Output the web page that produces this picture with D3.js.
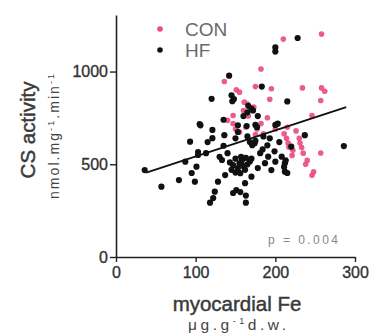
<!DOCTYPE html>
<html><head><meta charset="utf-8">
<script src="https://cdn.jsdelivr.net/npm/d3@7"></script>
<style>body{margin:0;background:#fff}svg{display:block;font-family:"Liberation Sans",Arial,sans-serif}</style>
</head><body><svg id="c" width="373" height="333"></svg>
<script>
const xTicks = [0, 100, 200, 300];
const yTicks = [0, 500, 1000];
const seriesNames = ["CON", "HF"];
const seriesColors = ["#e94a80", "#111111"];
const hfPoints = [[228,1181],[200,1130],[200,1108],[142,978],[183,919],[120,853],[145,872],[148,852],[146,840],[215,839],[166,815],[170,800],[172,790],[165,780],[135,740],[106,710],[153,710],[177,700],[203,719],[105,717],[121,685],[121,641],[136,657],[153,674],[164,706],[175,712],[200,712],[93,622],[103,566],[103,550],[87,514],[95,453],[101,487],[99,406],[79,415],[57,379],[36,469],[118,293],[122,318],[124,352],[128,406],[137,442],[130,540],[133,523],[143,510],[147,495],[150,530],[153,480],[155,505],[158,520],[160,490],[162,470],[165,500],[168,515],[145,470],[150,455],[157,540],[163,535],[147,345],[151,361],[156,350],[162,398],[163,293],[163,331],[156,452],[170,433],[174,614],[171,603],[181,560],[184,580],[187,506],[191,541],[195,469],[200,514],[199,570],[212,506],[212,460],[208,541],[220,595],[237,657],[286,598],[190,602],[175,627],[168,620],[140,560],[135,600],[113,560],[115,620],[165,650],[150,640],[160,760],[178,760],[185,650],[193,640],[205,620],[178,480],[170,530],[215,453],[213,521],[211,486]];
const conPoints = [[258,1202],[210,1175],[182,1014],[136,946],[151,901],[155,889],[175,919],[195,907],[234,912],[258,912],[262,894],[193,851],[257,844],[161,835],[165,825],[173,808],[140,737],[147,763],[147,719],[190,751],[246,763],[150,690],[155,674],[163,701],[175,660],[177,690],[185,665],[211,665],[214,640],[216,615],[217,593],[215,700],[231,615],[233,590],[235,560],[240,521],[248,459],[246,441],[257,561],[221,548],[200,690],[182,720],[160,790],[230,640],[166,760],[222,575],[238,500],[226,680]];
const fitX = [38, 289];
const fitY = [455, 808];
const pLabel = "p = 0.004";

const svg = d3.select("#c");
const x = d3.scaleLinear().domain([0, 300]).range([116, 355]);
const y = d3.scaleLinear().domain([0, 1305]).range([257, 15]);

// axes
const gx = svg.append("g").attr("transform", "translate(0,257)")
  .call(d3.axisBottom(x).tickValues(xTicks).tickFormat(d3.format("d")).tickSize(5).tickPadding(5).tickSizeOuter(0));
const gy = svg.append("g").attr("transform", "translate(116,0)")
  .call(d3.axisLeft(y).tickValues(yTicks).tickFormat(d3.format("d")).tickSize(6).tickPadding(2).tickSizeOuter(0));
[gx, gy].forEach(g => {
  g.select(".domain").attr("stroke", "#222").attr("stroke-width", 1.6);
  g.selectAll(".tick line").attr("stroke", "#222").attr("stroke-width", 1.4);
  g.selectAll(".tick text").attr("fill", "#333").attr("font-size", 16)
   .attr("stroke", "#333").attr("stroke-width", 0.35)
   .attr("font-family", "Liberation Sans, Arial, sans-serif");
});

// points
const pts = svg.append("g");
pts.selectAll(".con").data(conPoints).join("circle").attr("class", "con")
  .attr("cx", d => x(d[0])).attr("cy", d => y(d[1])).attr("r", 2.8)
  .attr("fill", seriesColors[0]).attr("opacity", 0.9);
pts.selectAll(".hf").data(hfPoints).join("circle").attr("class", "hf")
  .attr("cx", d => x(d[0])).attr("cy", d => y(d[1])).attr("r", 3.1)
  .attr("fill", seriesColors[1]);

// regression line
svg.append("line")
  .attr("x1", x(fitX[0])).attr("y1", y(fitY[0]))
  .attr("x2", x(fitX[1])).attr("y2", y(fitY[1]))
  .attr("stroke", "#111").attr("stroke-width", 1.9);

// legend
const leg = svg.append("g");
seriesNames.forEach((n, i) => {
  leg.append("circle").attr("cx", 160).attr("cy", 29 + i * 21).attr("r", 2.8).attr("fill", seriesColors[i]);
  leg.append("text").attr("x", 185).attr("y", 36 + i * 21).text(n)
    .attr("font-size", 19).attr("fill", "#6a6a6a");
});

// p value
svg.append("text").attr("x", 268).attr("y", 244)
  .attr("font-size", 12).attr("fill", "#888").attr("textLength", 70).text(pLabel);

// x title
svg.append("text").attr("x", 237).attr("y", 311).attr("text-anchor", "middle")
  .attr("font-size", 20.5).attr("fill", "#3a3a3a").attr("stroke", "#3a3a3a").attr("stroke-width", 0.45)
  .text("myocardial Fe");
const xs = svg.append("text").attr("x", 188).attr("y", 330)
  .attr("font-size", 15.5).attr("fill", "#444").attr("textLength", 98).attr("lengthAdjust", "spacing");
xs.append("tspan").text("μg.g");
xs.append("tspan").attr("dy", -6).attr("font-size", 9).text("-1");
xs.append("tspan").attr("dy", 6).text("d.w.");

// y title
svg.append("text").attr("transform", "translate(35,130) rotate(-90)").attr("text-anchor", "middle")
  .attr("font-size", 20.5).attr("fill", "#3a3a3a").attr("stroke", "#3a3a3a").attr("stroke-width", 0.45)
  .text("CS activity");
const ys = svg.append("text").attr("transform", "translate(59,199) rotate(-90)")
  .attr("font-size", 14).attr("fill", "#444").attr("textLength", 125).attr("lengthAdjust", "spacing");
ys.append("tspan").text("nmol.mg");
ys.append("tspan").attr("dy", -5).attr("font-size", 9).text("-1");
ys.append("tspan").attr("dy", 5).text(".min");
ys.append("tspan").attr("dy", -5).attr("font-size", 9).text("-1");
</script></body></html>
